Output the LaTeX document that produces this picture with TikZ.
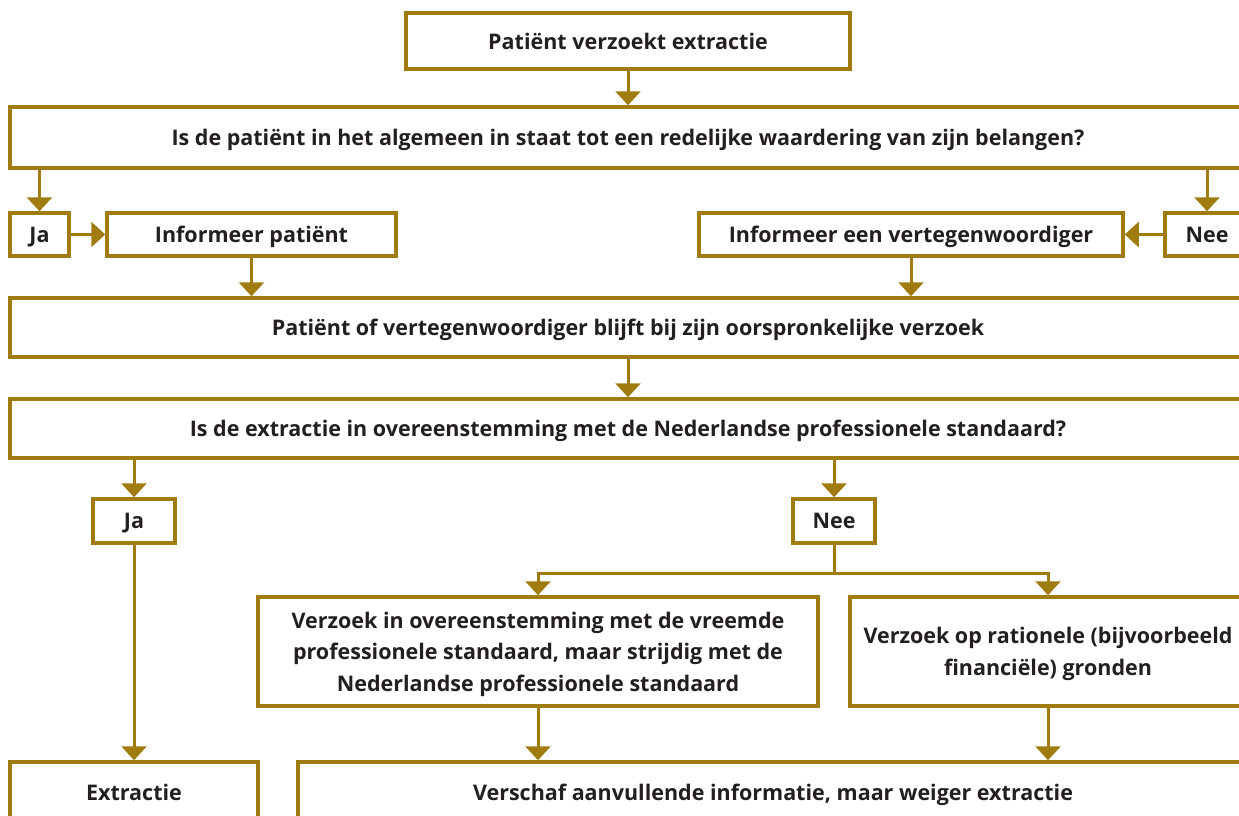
\documentclass[tikz,border=0pt]{standalone}
\usepackage{fontspec}
\setmainfont{Open Sans}
\usetikzlibrary{arrows.meta}
\definecolor{goud}{RGB}{160,124,16}
\definecolor{inkt}{RGB}{35,31,32}

\begin{document}
\begin{tikzpicture}[x=1pt,y=-1pt,
  box/.style={draw=goud,line width=3.5pt,inner sep=0pt,align=center,text=inkt,text depth=0pt,
    font=\fontsize{21.5}{31.5}\selectfont\bfseries},
  arr/.style={draw=goud,line width=3pt,line join=miter,-{Triangle[width=25pt,length=14pt]}}]
  \useasboundingbox (0,0) rectangle (1239,815);
  \clip (0,0) rectangle (1239,815);
  % vakken
  \node[box,minimum width=444pt,minimum height=56pt] (start) at (628,41) {Patiënt verzoekt extractie};
  \node[box,minimum width=1236pt,minimum height=61pt] (vraag1) at (628,137.5)
    {Is de patiënt in het algemeen in staat tot een redelijke waardering van zijn belangen?};
  \node[box,minimum width=59pt,minimum height=43pt] (ja1) at (39.5,234.5) {Ja};
  \node[box,minimum width=289pt,minimum height=43pt] (infpat) at (251.5,234.5) {Informeer patiënt};
  \node[box,minimum width=424pt,minimum height=43pt] (infvert) at (911,234.5) {Informeer een vertegenwoordiger};
  \node[box,minimum width=84pt,minimum height=43pt] (nee1) at (1207,234.5) {Nee};
  \node[box,minimum width=1236pt,minimum height=59pt] (blijft) at (628,327.5)
    {Patiënt of vertegenwoordiger blijft bij zijn oorspronkelijke verzoek};
  \node[box,minimum width=1236pt,minimum height=59pt] (vraag2) at (628,428.5)
    {Is de extractie in overeenstemming met de Nederlandse professionele standaard?};
  \node[box,minimum width=82pt,minimum height=44pt] (ja2) at (134,521) {Ja};
  \node[box,minimum width=82pt,minimum height=44pt] (nee2) at (834,521) {Nee};
  \node[box,minimum width=560pt,minimum height=109pt] (vreemd) at (538,651.5)
    {Verzoek in overeenstemming met de vreemde\\professionele standaard, maar strijdig met de\\Nederlandse professionele standaard};
  \node[box,minimum width=396pt,minimum height=109pt] (rationeel) at (1048,651.5)
    {Verzoek op rationele (bijvoorbeeld\\financiële) gronden};
  \node[box,minimum width=248pt,minimum height=60pt] (extractie) at (134,792) {Extractie};
  \node[box,minimum width=950pt,minimum height=60pt] (weiger) at (773,792)
    {Verschaf aanvullende informatie, maar weiger extractie};
  % pijlen
  \draw[arr] (start.south) -- (vraag1.north);
  \draw[arr] (vraag1.south -| ja1) -- (ja1.north);
  \draw[arr] (vraag1.south -| nee1) -- (nee1.north);
  \draw[arr] (ja1) -- (infpat);
  \draw[arr] (nee1) -- (infvert);
  \draw[arr] (infpat.south) -- (blijft.north -| infpat);
  \draw[arr] (infvert.south) -- (blijft.north -| infvert);
  \draw[arr] (blijft) -- (vraag2);
  \draw[arr] (vraag2.south -| ja2) -- (ja2.north);
  \draw[arr] (vraag2.south -| nee2) -- (nee2.north);
  \draw[arr] (ja2) -- (extractie);
  \coordinate (splits) at (834,573);
  \draw[goud,line width=3pt] (nee2) -- (splits);
  \draw[arr] (splits) -| (vreemd.north);
  \draw[arr] (splits) -| (rationeel.north);
  \draw[arr] (vreemd.south) -- (weiger.north -| vreemd);
  \draw[arr] (rationeel.south) -- (weiger.north -| rationeel);
\end{tikzpicture}
\end{document}
